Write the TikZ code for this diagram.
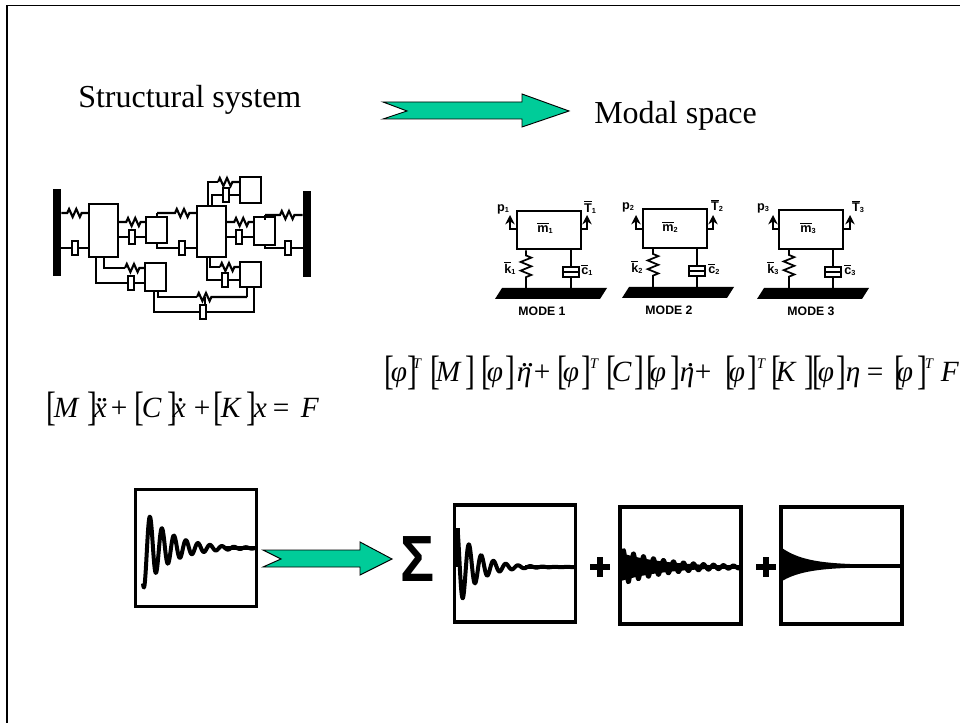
\documentclass[tikz,border=0pt]{standalone}
\usepackage{fontspec}
\setmainfont{Liberation Serif}
\newfontfamily\sanb{Liberation Sans}
\usetikzlibrary{decorations.pathmorphing,calc,arrows.meta}
\definecolor{teal1}{HTML}{00CC99}
\newcommand{\tk}[2]{\rlap{\hspace{#1\dimexpr0.75pt\relax}#2}}
\newcommand{\Br}[1]{\raisebox{-2.25pt}{\scalebox{1}[1.4]{\upshape #1}}}
\newcommand{\Sp}{\raisebox{10pt}{\fontsize{11}{11}\selectfont\itshape T}}
\newcommand{\dotone}{\raisebox{11.5pt}{\upshape .}}
\newcommand{\ov}[2]{\mbox{$\overline{\mbox{\sanb\bfseries #1}}$\raisebox{-1pt}{\sanb\bfseries\fontsize{5.5}{5.5}\selectfont #2}}}
\newcommand{\pl}[2]{\mbox{\sanb\bfseries #1\raisebox{-1pt}{\fontsize{5.5}{5.5}\selectfont #2}}}
\tikzset{
 x=0.75pt,y=-0.75pt,
 mbox/.style={draw=black,line width=1.9pt,fill=white,inner sep=0pt},
 wire/.style={draw=black,line width=1.6pt},
 spr/.style 2 args={decorate,decoration={zigzag,segment length=5.4pt,amplitude=3pt,pre length=#1*0.75pt,post length=#2*0.75pt}},
 sprv/.style 2 args={decorate,decoration={zigzag,segment length=6.5pt,amplitude=4pt,pre length=#1*0.75pt,post length=#2*0.75pt}},
 damper/.style={draw=black,line width=1.7pt,fill=white,minimum width=4.6pt,minimum height=11pt,inner sep=0pt},
 wall/.style={fill=black,inner sep=0pt},
 head/.style={draw=black,line width=0.7pt,fill=teal1,line join=miter},
 plotbox/.style={draw=black,line width=2.6pt,fill=white,inner sep=0pt,minimum width=91pt,minimum height=88pt},
 wave/.style={draw=black,line join=round},
 lab/.style={inner sep=0pt,font=\fontsize{9.5}{9.5}\selectfont},
 modetxt/.style={inner sep=0pt,font=\sanb\bfseries\fontsize{9.2}{9.2}\selectfont},
 big/.style={inner sep=0pt,anchor=base west,font=\fontsize{24}{24}\selectfont},
 eqn/.style={inner sep=0pt,anchor=base west,font=\fontsize{22}{22}\selectfont\itshape},
 plusn/.style={inner sep=0pt,fill=black},
 up/.style={-{Stealth[length=7pt,width=7pt]},line width=1.5pt},
}
\begin{document}
\begin{tikzpicture}
\useasboundingbox (0,0) rectangle (960,723);
\draw[line width=0.8pt] (7,723) -- (7,5.5) -- (960,5.5);
% titles
\node[big] (title1) at (78,108) {Structural system};
\node[big] (title2) at (594,124) {Modal space};
% arrows
\draw[head] (383,102) -- (522,102) -- (522,94) -- (569,111) -- (522,127) -- (522,119) -- (383,119) -- (407,111) -- cycle;
\draw[head] (263,550) -- (360,550) -- (360,542) -- (392,559) -- (360,575) -- (360,567) -- (263,567) -- (281,559) -- cycle;
% structural system
\node[wall,minimum width=6pt,minimum height=65pt] (wl) at (57,232.5) {};
\node[wall,minimum width=6pt,minimum height=64.5pt] (wr) at (307,234) {};
\node[mbox,minimum width=21.7pt,minimum height=39.7pt] (A) at (103.5,230.5) {};
\node[mbox,minimum width=15.7pt,minimum height=19.5pt] (B) at (156.5,230) {};
\node[mbox,minimum width=21.7pt,minimum height=38.2pt] (C) at (211.5,231.5) {};
\node[mbox,minimum width=15.7pt,minimum height=19.5pt] (D) at (250.5,190) {};
\node[mbox,minimum width=15.7pt,minimum height=21pt] (E) at (264.5,231) {};
\node[mbox,minimum width=15.7pt,minimum height=21pt] (F) at (155.5,277) {};
\node[mbox,minimum width=15.7pt,minimum height=18.7pt] (G) at (250.5,274.5) {};
% wires
\draw[wire,spr={6}{4}] (wl.east |- 0,213) -- (A.west |- 0,213);
\draw[wire] (wl.east |- 0,248) -- (A.west |- 0,248);
\draw[wire,spr={7}{3}] (A.east |- 0,222) -- (B.west |- 0,222);
\draw[wire] (A.east |- 0,237) -- (B.west |- 0,237);
\draw[wire] (157,217) -- (157,213);
\draw[wire,spr={18}{4}] (157,213) -- (C.west |- 0,213);
\draw[wire] (157,243) -- (157,248) -- (C.west |- 0,248);
\draw[wire] (208,206) -- (208,182) -- (218,182);
\draw[wire,spr={0}{3}] (218,182) -- (D.west |- 0,182);
\draw[wire] (212,206) -- (212,195) -- (D.west |- 0,195);
\draw[wire,spr={7}{2}] (C.east |- 0,222) -- (E.west |- 0,222);
\draw[wire] (C.east |- 0,237) -- (E.west |- 0,237);
\draw[wire] (265,220) -- (265,215);
\draw[wire,spr={15}{5}] (265,215) -- (wr.west |- 0,215);
\draw[wire] (265,245) -- (265,248) -- (wr.west |- 0,248);
\draw[wire] (210,257) -- (210,267) -- (220,267);
\draw[wire,spr={0}{3}] (220,267) -- (G.west |- 0,267);
\draw[wire] (207,257) -- (207,280) -- (G.west |- 0,280);
\draw[wire] (104,257) -- (104,268) -- (125,268);
\draw[wire,spr={0}{3}] (125,268) -- (F.west |- 0,268);
\draw[wire] (96,257) -- (96,283) -- (F.west |- 0,283);
\draw[wire] (158,291) -- (158,297) -- (197,297);
\draw[wire,spr={0}{34}] (197,297) -- (247,297);
\draw[wire] (247,297) -- (247,287);
\draw[wire] (154,291) -- (154,312) -- (254,312) -- (254,287);
\draw[wire] (205,297) -- (205,312);
% dampers
\node[damper] (d1) at (75,248) {};
\node[damper] (d2) at (132,237) {};
\node[damper] (d3) at (182,248) {};
\node[damper] (d4) at (226,195) {};
\node[damper] (d5) at (239,237) {};
\node[damper] (d6) at (288,248) {};
\node[damper] (d7) at (225,280) {};
\node[damper] (d8) at (131,283) {};
\node[damper] (d9) at (203,312) {};
% mode diagrams
\foreach \n/\bx/\by/\sx/\dd/\gl/\gy/\aL/\aR/\kx/\cx/\pxx/\txx/\mx/\my in {
 1/549/230/526/571/495/288/510/587/510/587/503/590/545/228,
 2/675/228.5/653/697/622/287/636/713/637/714/628/717/670/227,
 3/811/229.5/789/833/757/288/773/850/773/850/763/858/808/228}{
  \node[mbox,line width=1.7pt,minimum width=48pt,minimum height=29pt] (m\n) at (\bx,\by) {};
  \coordinate (g\n) at (\gl,\gy);
  \fill ($(g\n)+(7,0)$) -- ($(g\n)+(112,0)$) -- ($(g\n)+(105,11)$) -- ($(g\n)+(0,11)$) -- cycle;
  \draw[wire,line width=1.3pt,sprv={5}{8}] (m\n.south -| \sx,0) -- (\sx,\gy);
  \draw[wire,line width=1.3pt] (m\n.south -| \dd,0) -- (\dd,\gy);
  \node[draw=black,line width=1.3pt,fill=white,minimum width=12pt,minimum height=7pt,inner sep=0pt] (dm\n) at (\dd,\gy-16) {};
  \draw[line width=1.3pt] (dm\n.west) -- (dm\n.east);
  \draw[up] (m\n.west |- 0,229) -- (\aL,229) -- (\aL,215);
  \draw[up] (m\n.east |- 0,229) -- (\aR,229) -- (\aR,215);
  \node[lab] (k\n) at (\kx,\gy-20) {\ov{k}{\n}};
  \node[lab] (c\n) at (\cx,\gy-18) {\ov{c}{\n}};
  \node[lab] (mm\n) at (\mx,\my) {\ov{m}{\n}};
  \node[lab] (p\n) at (\pxx,\by-21) {\pl{p}{\n}};
  \node[lab] (T\n) at (\txx,\by-23) {\ov{T}{\n}};
}
\node[modetxt] (mode1) at (542,311) {MODE 1};
\node[modetxt] (mode2) at (669,310) {MODE 2};
\node[modetxt] (mode3) at (811,311) {MODE 3};
% equations
\node[eqn] (eqmodal) at (384,382) {%
\tk{0}{\Br{[}}\tk{6}{φ}\tk{23}{\Br{]}}\tk{28}{\Sp}\tk{46}{\Br{[}}\tk{51}{M}\tk{81}{\Br{]}}\tk{97}{\Br{[}}\tk{102}{φ}\tk{121}{\Br{]}}%
\tk{132}{η}\tk{136}{\dotone}\tk{142}{\dotone}\tk{149}{\upshape +}\tk{173}{\Br{[}}\tk{178}{φ}\tk{197}{\Br{]}}\tk{205}{\Sp}\tk{222}{\Br{[}}\tk{227}{C}\tk{250}{\Br{]}}\tk{262}{\Br{[}}\tk{265}{φ}\tk{286}{\Br{]}}%
\tk{295}{η}\tk{302}{\dotone}\tk{310}{\upshape +}\tk{341}{\Br{[}}\tk{344}{φ}\tk{363}{\Br{]}}\tk{372}{\Sp}\tk{387}{\Br{[}}\tk{391}{K}\tk{420}{\Br{]}}\tk{428}{\Br{[}}\tk{433}{φ}\tk{452}{\Br{]}}%
\tk{461}{η}\tk{482}{\upshape =}\tk{510}{\Br{[}}\tk{512}{φ}\tk{533}{\Br{]}}\tk{540}{\Sp}\tk{556}{F}\hspace{430pt}};
\node[eqn] (eqstruct) at (46,417) {%
\tk{0}{\Br{[}}\tk{7}{M}\tk{41}{\Br{]}}\tk{47}{x}\tk{49}{\dotone}\tk{54}{\dotone}\tk{64}{\upshape +}\tk{88}{\Br{[}}\tk{95}{C}\tk{121}{\Br{]}}\tk{126}{x}\tk{130}{\dotone}\tk{147}{\upshape +}\tk{167}{\Br{[}}\tk{174}{K}\tk{200}{\Br{]}}\tk{207}{x}\tk{226}{\upshape =}\tk{254}{F}\hspace{200pt}};
% plots
\node[plotbox] (p0) at (196,548) {};
\node[plotbox] (p1) at (515,563.5) {};
\node[plotbox] (p2) at (680.5,565.5) {};
\node[plotbox] (p3) at (841.5,565.5) {};
\draw[wave,line width=3pt] plot[domain=143:255,samples=220] (\x,{548-38*exp(-(\x-145)/26)*cos(30*(\x-150))});
\draw[wave,line width=2.6pt] (225,548) -- (p0.east |- 0,548);
\fill (456,528) rectangle (460,567);
\draw[wave,line width=3pt] plot[domain=458:576,samples=220] (\x,{567-31*exp(-(\x-463)/19)*cos(29.3*(\x-469))});
\draw[wave,line width=2.6pt] (525,567) -- (p1.east |- 0,567);
\draw[wave,line width=3pt] plot[domain=621:741,samples=400] (\x,{567-18*exp(-(\x-621)/45)*sin(36*(\x-621))});
\fill plot[domain=621:741,samples=40] (\x,{567-14*exp(-(\x-621)/45)}) -- plot[domain=741:621,samples=40] (\x,{567+14*exp(-(\x-621)/45)}) -- cycle;
\draw[wave,line width=2.6pt] (700,567) -- (p2.east |- 0,567);
\fill plot[domain=782:902,samples=50] (\x,{565-17*exp(-(\x-782)/24)}) -- plot[domain=902:782,samples=50] (\x,{567+14*exp(-(\x-782)/24)}) -- cycle;
\draw[wave,line width=2.6pt] (782,566) -- (p3.east |- 0,566);
\node[inner sep=0pt,anchor=base west,font=\sanb\bfseries\fontsize{49}{49}\selectfont] (sigma) at (400,581) {\scalebox{.87}[1]{Σ}};
\node[plusn,minimum width=15pt,minimum height=3.8pt] (pa) at (600,567) {};
\node[plusn,minimum width=3.8pt,minimum height=15pt] (pb) at (600,567) {};
\node[plusn,minimum width=15pt,minimum height=3.8pt] (pc) at (766,567) {};
\node[plusn,minimum width=3.8pt,minimum height=15pt] (pd) at (766,567) {};
\end{tikzpicture}
\end{document}
